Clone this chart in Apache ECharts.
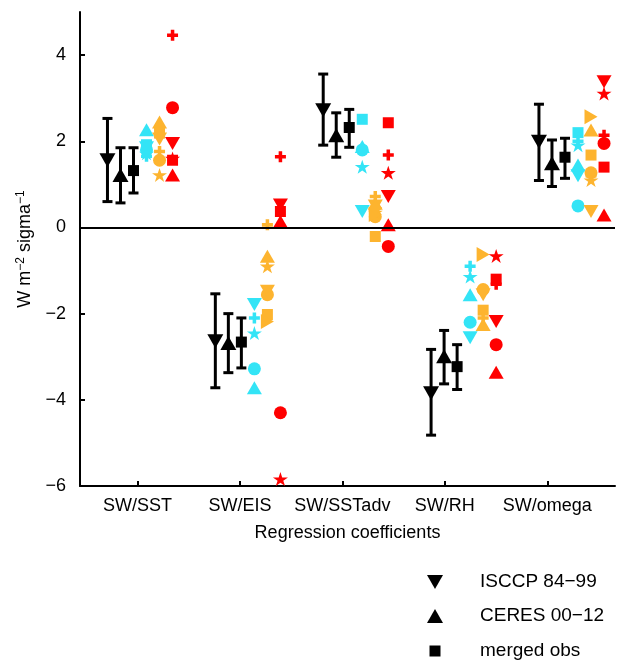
<!DOCTYPE html>
<html lang="en">
<head>
    <meta charset="UTF-8">
    <title>Regression coefficients</title>
    <script src="https://cdn.jsdelivr.net/npm/echarts@6/dist/echarts.min.js"></script>
    <style>
        body, html { margin: 0; padding: 0; background: #fff; }
        #chart { width: 631px; height: 664px; }
    </style>
</head>
<body>
<div id="chart"></div>
<script>
    // categories and axis ticks
    const categories = ['SW/SST', 'SW/EIS', 'SW/SSTadv', 'SW/RH', 'SW/omega'];
    const yTicks = [-6, -4, -2, 0, 2, 4];

    // observations: central value and error bar ends
    const isccpMid = [1.56, -2.64, 2.72, -3.85, 1.99];
    const isccpLo = [0.60, -3.72, 1.91, -4.82, 1.09];
    const isccpHi = [2.53, -1.54, 3.56, -2.83, 2.86];
    const ceresMid = [1.22, -2.68, 2.14, -2.99, 1.49];
    const ceresLo = [0.57, -3.37, 1.63, -3.63, 0.95];
    const ceresHi = [1.85, -2.00, 2.66, -2.39, 2.03];
    const mergedMid = [1.32, -2.66, 2.32, -3.23, 1.63];
    const mergedLo = [0.80, -3.26, 1.86, -3.76, 1.14];
    const mergedHi = [1.85, -2.10, 2.74, -2.72, 2.07];

    // models, cyan group
    const cyanDown = [1.85, -1.79, 0.37, -2.56, 1.20];
    const cyanUp = [2.27, -3.72, 1.88, -1.56, 1.45];
    const cyanCircle = [1.80, -3.28, 1.80, -2.20, 0.50];
    const cyanStar = [1.72, -2.45, 1.41, -1.14, 1.91];
    const cyanPlus = [1.65, -2.10, null, -0.90, 2.00];
    const cyanSquare = [1.92, null, 2.51, null, 2.20];

    // models, orange group
    const orangeUp = [2.45, -0.67, 0.56, -2.25, 2.26];
    const orangeSquare = [2.19, -2.02, -0.21, -1.92, 1.68];
    const orangePlus = [1.76, 0.06, 0.72, -2.10, 1.20];
    const orangeCircle = [1.56, -1.56, 0.25, -1.44, 1.27];
    const orangeStar = [1.22, -0.90, 0.35, null, 1.10];
    const orangeDown = [2.05, -1.48, 0.50, -1.56, 0.37];
    const orangeRight = [null, -2.18, 0.30, -0.63, 2.57];
    const orangeDiamond = [null, null, 0.45, null, null];

    // models, red group
    const redDown = [1.95, 0.52, 0.72, -2.18, 3.38];
    const redUp = [1.22, 0.14, 0.06, -3.36, 0.29];
    const redCircle = [2.78, -4.30, -0.44, -2.72, 1.95];
    const redSquare = [1.56, 0.37, 2.43, -1.20, 1.40];
    const redPlus = [4.46, 1.64, 1.68, -1.32, 2.14];
    const redStar = [1.60, -5.84, 1.27, -0.66, 3.11];

    // marker shapes
    const DOWN = 'path://M0,0L12,0L6,10.4Z';
    const UP = 'path://M6,0L12,10.4L0,10.4Z';
    const RIGHT = 'path://M0,0L10.4,6L0,12Z';
    const PLUS = 'path://M3.4,0H6.6V3.4H10V6.6H6.6V10H3.4V6.6H0V3.4H3.4Z';
    const DIAMOND = 'path://M5,0L10,5L5,10L0,5Z';
    const STAR = (function () {
        let pts = [];
        for (let i = 0; i < 10; i++) {
            let r = i % 2 ? 3.82 : 10;
            let a = -Math.PI / 2 + i * Math.PI / 5;
            pts.push((r * Math.cos(a)).toFixed(2) + ',' + (r * Math.sin(a)).toFixed(2));
        }
        return 'path://M' + pts.join('L') + 'Z';
    })();

    const CYAN = '#33e4f6';
    const ORANGE = '#fdb42f';
    const RED = '#ff0000';
    const FONT = 'Liberation Sans';
    const FS = 18;
    const LEGEND_FS = 19;

    // x position: groups drift slightly relative to the category ticks
    const groupStart = 0.708, groupStep = 1.0525, slotStep = 0.127;
    function xPos(cat, slot) {
        return groupStart + cat * groupStep + slot * slotStep;
    }

    function points(values, slot) {
        let out = [];
        values.forEach(function (v, i) {
            if (v !== null) out.push([xPos(i, slot), v]);
        });
        return out;
    }

    function modelSeries(values, slot, symbol, size, color) {
        return {
            type: 'scatter',
            data: points(values, slot),
            symbol: symbol,
            symbolSize: size,
            itemStyle: {color: color, opacity: 1},
            silent: true,
            z: 3
        };
    }

    function errorSeries(lo, hi, slot) {
        return {
            type: 'custom',
            data: lo.map(function (v, i) { return [xPos(i, slot), v, hi[i]]; }),
            encode: {x: 0, y: [1, 2]},
            silent: true,
            z: 2,
            renderItem: function (params, api) {
                let x = api.value(0);
                let p1 = api.coord([x, api.value(1)]);
                let p2 = api.coord([x, api.value(2)]);
                let w = 5;
                let st = {stroke: '#000', lineWidth: 3};
                return {
                    type: 'group',
                    children: [
                        {type: 'line', shape: {x1: p1[0], y1: p1[1], x2: p2[0], y2: p2[1]}, style: st},
                        {type: 'line', shape: {x1: p1[0] - w, y1: p1[1], x2: p1[0] + w, y2: p1[1]}, style: st},
                        {type: 'line', shape: {x1: p2[0] - w, y1: p2[1], x2: p2[0] + w, y2: p2[1]}, style: st}
                    ]
                };
            }
        };
    }

    function obsSeries(name, values, slot, symbol, size) {
        return {
            name: name,
            type: 'scatter',
            data: points(values, slot),
            symbol: symbol,
            symbolSize: size,
            itemStyle: {color: '#000', opacity: 1},
            silent: true,
            z: 4
        };
    }

    // one legend per row so each icon keeps its own size
    function legendFor(name, yc, w, h) {
        return {
            data: [name],
            left: 435 - w / 2 - 5,
            top: yc - 5 - Math.max(h, LEGEND_FS) / 2,
            itemWidth: w,
            itemHeight: h,
            selectedMode: false,
            textStyle: {fontFamily: FONT, fontSize: LEGEND_FS, color: '#000', padding: [0, 0, 0, 40 - w / 2]}
        };
    }

    let series = [
        errorSeries(isccpLo, isccpHi, 0),
        errorSeries(ceresLo, ceresHi, 1),
        errorSeries(mergedLo, mergedHi, 2),
        obsSeries('ISCCP 84\u221299', isccpMid, 0, DOWN, [16, 14]),
        obsSeries('CERES 00\u221212', ceresMid, 1, UP, [16, 14]),
        obsSeries('merged obs', mergedMid, 2, 'rect', 11),

        modelSeries(cyanDown, 3, DOWN, [15, 13], CYAN),
        modelSeries(cyanUp, 3, UP, [15, 13], CYAN),
        modelSeries(cyanCircle, 3, 'circle', 13, CYAN),
        modelSeries(cyanStar, 3, STAR, [15, 14], CYAN),
        modelSeries(cyanPlus, 3, PLUS, 11, CYAN),
        modelSeries(cyanSquare, 3, 'rect', 11, CYAN),

        modelSeries(orangeUp, 4, UP, [15, 13], ORANGE),
        modelSeries(orangeSquare, 4, 'rect', 11, ORANGE),
        modelSeries(orangePlus, 4, PLUS, 11, ORANGE),
        modelSeries(orangeCircle, 4, 'circle', 13, ORANGE),
        modelSeries(orangeStar, 4, STAR, [15, 14], ORANGE),
        modelSeries(orangeDown, 4, DOWN, [15, 13], ORANGE),
        modelSeries(orangeRight, 4, RIGHT, [13, 15], ORANGE),
        modelSeries(orangeDiamond, 4, DIAMOND, 14, ORANGE),

        modelSeries(redDown, 5, DOWN, [15, 13], RED),
        modelSeries(redUp, 5, UP, [15, 13], RED),
        modelSeries(redCircle, 5, 'circle', 13, RED),
        modelSeries(redSquare, 5, 'rect', 11, RED),
        modelSeries(redPlus, 5, PLUS, 11, RED),
        modelSeries(redStar, 5, STAR, [15, 14], RED)
    ];

    // zero line
    series[0].markLine = {
        silent: true,
        symbol: 'none',
        label: {show: false},
        lineStyle: {color: '#000', width: 2, type: 'solid'},
        data: [{yAxis: 0}]
    };

    let options = {
        backgroundColor: '#fff',
        animation: false,
        grid: {left: 80, right: 16, top: 12, bottom: 178},
        legend: [
            legendFor('ISCCP 84\u221299', 582, 16, 14),
            legendFor('CERES 00\u221212', 616, 16, 14),
            legendFor('merged obs', 651, 11, 11)
        ],
        xAxis: {
            type: 'value',
            min: 0.44,
            max: 5.66,
            splitLine: {show: false},
            axisLine: {show: true, onZero: false, lineStyle: {color: '#000', width: 2}},
            axisTick: {show: true, inside: true, length: 5, customValues: [1, 2, 3, 4, 5], lineStyle: {color: '#000', width: 2}},
            axisLabel: {
                customValues: [1, 2, 3, 4, 5],
                margin: 11,
                fontFamily: FONT, fontSize: FS, color: '#000',
                formatter: function (v) { return categories[Math.round(v) - 1]; }
            },
            name: 'Regression coefficients',
            nameLocation: 'middle',
            nameGap: 38,
            nameTextStyle: {fontFamily: FONT, fontSize: FS, color: '#000'}
        },
        yAxis: {
            type: 'value',
            min: -6,
            max: 5,
            splitLine: {show: false},
            axisLine: {show: true, onZero: false, lineStyle: {color: '#000', width: 2}},
            axisTick: {show: true, inside: true, length: 5, customValues: yTicks, lineStyle: {color: '#000', width: 2}},
            axisLabel: {
                customValues: yTicks,
                margin: 14,
                fontFamily: FONT, fontSize: FS, color: '#000',
                formatter: function (v) { return v < 0 ? '\u2212' + Math.abs(v) : String(v); }
            },
            name: 'W m{sup|\u22122} sigma{sup|\u22121}',
            nameLocation: 'middle',
            nameRotate: 90,
            nameGap: 44,
            nameTextStyle: {
                fontFamily: FONT, fontSize: FS, color: '#000',
                rich: {
                    sup: {fontFamily: FONT, fontSize: 12, color: '#000', verticalAlign: 'top', padding: [0, 0, 9, 0]}
                }
            }
        },
        series: series
    };

    let chart = echarts.init(document.getElementById('chart'));
    chart.setOption(options);

    window.addEventListener('resize', function () {
        chart.resize();
    });
</script>
</body>
</html>
